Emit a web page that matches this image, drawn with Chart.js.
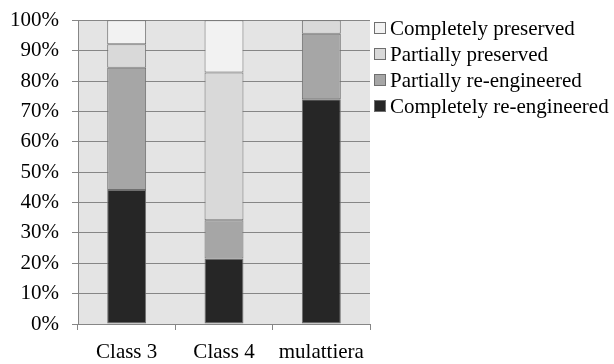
<!DOCTYPE html>
<html>
<head>
<meta charset="utf-8">
<script src="https://cdn.jsdelivr.net/npm/chart.js@4/dist/chart.umd.min.js"></script>
<style>
  html, body { margin: 0; padding: 0; background: #fff; }
  #wrap { width: 614px; height: 364px; }
</style>
</head>
<body>
<div id="wrap"><canvas id="chart"></canvas></div>
<script>
// categories and series (percent of each bar)
const categories = ["Class 3", "Class 4", "mulattiera"];
const completelyReengineered = [44.1, 21.6, 74.0];
const partiallyReengineered = [40.3, 12.6, 21.6];
const partiallyPreserved = [7.7, 48.6, 4.4];
const completelyPreserved = [7.9, 17.2, 0];
const yTicks = [0, 10, 20, 30, 40, 50, 60, 70, 80, 90, 100];

const serif = "'Liberation Serif', 'Times New Roman', serif";

// grey plot background
const plotBg = {
  id: "plotBg",
  beforeDraw(chart) {
    const { ctx, chartArea: a } = chart;
    ctx.save();
    ctx.fillStyle = "#e4e4e4";
    ctx.fillRect(a.left, a.top, a.right - a.left, a.bottom - a.top);
    ctx.restore();
  }
};

// legend drawn next to the plot, top item = last dataset
const sideLegend = {
  id: "sideLegend",
  afterDraw(chart) {
    const { ctx, chartArea: a } = chart;
    const sets = chart.data.datasets.slice().reverse();
    ctx.save();
    ctx.font = "21px " + serif;
    ctx.textBaseline = "middle";
    sets.forEach((d, i) => {
      const y = 28 + i * 26;
      ctx.fillStyle = d.backgroundColor;
      ctx.fillRect(a.right + 4, y - 6, 12, 12);
      ctx.strokeStyle = "#6f6f6f";
      ctx.lineWidth = 1;
      ctx.strokeRect(a.right + 4.5, y - 5.5, 11, 11);
      ctx.fillStyle = "#000";
      ctx.fillText(d.label, a.right + 20, y + 1);
    });
    ctx.restore();
  }
};

function ds(label, data, color) {
  return {
    label: label,
    data: data,
    backgroundColor: color,
    borderColor: "#6f6f6f",
    borderWidth: 1,
    borderSkipped: false,
    categoryPercentage: 1,
    barPercentage: 0.4
  };
}

new Chart(document.getElementById("chart"), {
  type: "bar",
  data: {
    labels: categories,
    datasets: [
      ds("Completely re-engineered", completelyReengineered, "#262626"),
      ds("Partially re-engineered", partiallyReengineered, "#a6a6a6"),
      ds("Partially preserved", partiallyPreserved, "#d9d9d9"),
      ds("Completely preserved", completelyPreserved, "#f2f2f2")
    ]
  },
  options: {
    responsive: true,
    maintainAspectRatio: false,
    animation: false,
    layout: { padding: { top: 2, right: 244, left: 0, bottom: 0 } },
    plugins: {
      tooltip: { enabled: false },
      legend: { display: false }
    },
    scales: {
      x: {
        stacked: true,
        grid: { display: true, drawOnChartArea: false, color: "#868686", tickLength: 6 },
        border: { color: "#868686" },
        ticks: { color: "#000", padding: 10, font: { family: serif, size: 21 } },
        afterFit(scale) { scale.height = 40; }
      },
      y: {
        stacked: true,
        min: 0,
        max: 100,
        afterBuildTicks(scale) { scale.ticks = yTicks.map(v => ({ value: v })); },
        grid: { color: "#868686", tickLength: 6 },
        border: { color: "#868686" },
        ticks: {
          color: "#000",
          padding: 13,
          font: { family: serif, size: 21, lineHeight: 0.7 },
          callback: v => v + "%"
        },
        afterFit(scale) { scale.width = 78; }
      }
    }
  },
  plugins: [plotBg, sideLegend]
});
</script>
</body>
</html>
